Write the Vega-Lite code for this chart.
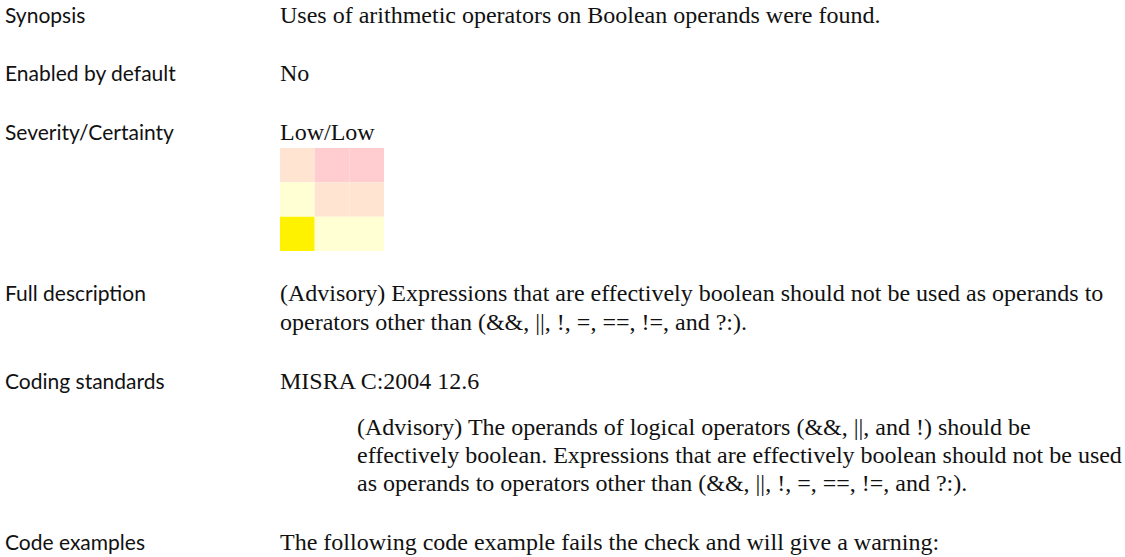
{
  "$schema": "https://vega.github.io/schema/vega-lite/v6.json",
  "width": 1125,
  "height": 557,
  "autosize": {"type": "fit", "contains": "padding"},
  "padding": 0,
  "background": "#ffffff",
  "config": {"view": {"stroke": null}},
  "datasets": {
    "lines": [
      {"line": 0, "column": "label", "indent": false, "text": "Synopsis"},
      {"line": 2, "column": "label", "indent": false, "text": "Enabled by default"},
      {"line": 4, "column": "label", "indent": false, "text": "Severity/Certainty"},
      {"line": 9.5, "column": "label", "indent": false, "text": "Full description"},
      {"line": 12.5, "column": "label", "indent": false, "text": "Coding standards"},
      {"line": 18, "column": "label", "indent": false, "text": "Code examples"},
      {"line": 0, "column": "value", "indent": false, "text": "Uses of arithmetic operators on Boolean operands were found."},
      {"line": 2, "column": "value", "indent": false, "text": "No"},
      {"line": 4, "column": "value", "indent": false, "text": "Low/Low"},
      {"line": 9.5, "column": "value", "indent": false, "text": "(Advisory) Expressions that are effectively boolean should not be used as operands to"},
      {"line": 10.5, "column": "value", "indent": false, "text": "operators other than (&&, ||, !, =, ==, !=, and ?:)."},
      {"line": 12.5, "column": "value", "indent": false, "text": "MISRA C:2004 12.6"},
      {"line": 14.1, "column": "value", "indent": true, "text": "(Advisory) The operands of logical operators (&&, ||, and !) should be"},
      {"line": 15.05, "column": "value", "indent": true, "text": "effectively boolean. Expressions that are effectively boolean should not be used"},
      {"line": 16, "column": "value", "indent": true, "text": "as operands to operators other than (&&, ||, !, =, ==, !=, and ?:)."},
      {"line": 18, "column": "value", "indent": false, "text": "The following code example fails the check and will give a warning:"}
    ],
    "matrix": [
      {"severity": "High", "certainty": "Low", "zone": "medium", "selected": false},
      {"severity": "High", "certainty": "Medium", "zone": "high", "selected": false},
      {"severity": "High", "certainty": "High", "zone": "high", "selected": false},
      {"severity": "Medium", "certainty": "Low", "zone": "low", "selected": false},
      {"severity": "Medium", "certainty": "Medium", "zone": "medium", "selected": false},
      {"severity": "Medium", "certainty": "High", "zone": "medium", "selected": false},
      {"severity": "Low", "certainty": "Low", "zone": "low", "selected": true},
      {"severity": "Low", "certainty": "Medium", "zone": "low", "selected": false},
      {"severity": "Low", "certainty": "High", "zone": "low", "selected": false}
    ]
  },
  "layer": [
    {
      "data": {"name": "matrix"},
      "mark": {"type": "rect", "strokeWidth": 0},
      "encoding": {
        "x": {"field": "certainty", "type": "nominal", "axis": null,
              "scale": {"domain": ["Low", "Medium", "High"], "range": [280, 384], "paddingInner": 0, "paddingOuter": 0}},
        "y": {"field": "severity", "type": "nominal", "axis": null,
              "scale": {"domain": ["High", "Medium", "Low"], "range": [148, 251], "paddingInner": 0, "paddingOuter": 0}},
        "color": {
          "condition": {"test": "datum.selected", "value": "#FFF200"},
          "field": "zone", "type": "nominal", "legend": null,
          "scale": {"domain": ["low", "medium", "high"], "range": ["#FFFFD3", "#FFE4D2", "#FFCCD0"]}
        }
      }
    },
    {
      "data": {"name": "lines"},
      "transform": [{"filter": "datum.column == 'label'"}],
      "mark": {"type": "text", "align": "left", "baseline": "alphabetic", "font": "Lato", "fontSize": 21, "color": "#111111"},
      "encoding": {
        "x": {"field": "column", "type": "nominal", "axis": null,
              "scale": {"type": "point", "domain": ["label", "value"], "range": [5, 280], "padding": 0}},
        "y": {"field": "line", "type": "quantitative", "axis": null,
              "scale": {"domain": [-0.786, 18.256], "reverse": true, "nice": false, "zero": false}},
        "text": {"field": "text", "type": "nominal"}
      }
    },
    {
      "data": {"name": "lines"},
      "transform": [{"filter": "datum.column == 'value' && !datum.indent"}],
      "mark": {"type": "text", "align": "left", "baseline": "alphabetic", "font": "Liberation Serif", "fontSize": 24, "color": "#111111"},
      "encoding": {
        "x": {"field": "column", "type": "nominal", "axis": null,
              "scale": {"type": "point", "domain": ["label", "value"], "range": [5, 280], "padding": 0}},
        "y": {"field": "line", "type": "quantitative", "axis": null,
              "scale": {"domain": [-0.786, 18.256], "reverse": true, "nice": false, "zero": false}},
        "text": {"field": "text", "type": "nominal"}
      }
    },
    {
      "data": {"name": "lines"},
      "transform": [{"filter": "datum.indent"}],
      "mark": {"type": "text", "align": "left", "baseline": "alphabetic", "font": "Liberation Serif", "fontSize": 24, "color": "#111111", "dx": 77},
      "encoding": {
        "x": {"field": "column", "type": "nominal", "axis": null,
              "scale": {"type": "point", "domain": ["label", "value"], "range": [5, 280], "padding": 0}},
        "y": {"field": "line", "type": "quantitative", "axis": null,
              "scale": {"domain": [-0.786, 18.256], "reverse": true, "nice": false, "zero": false}},
        "text": {"field": "text", "type": "nominal"}
      }
    }
  ],
  "resolve": {"scale": {"x": "independent", "y": "independent"}}
}
